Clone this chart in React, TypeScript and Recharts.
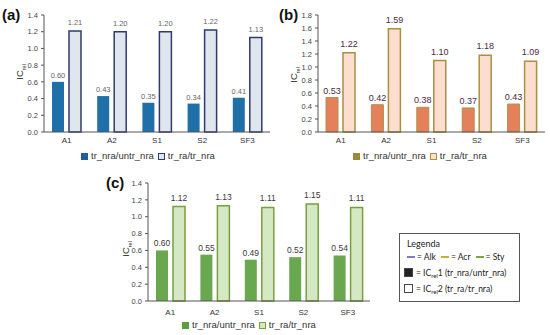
import { Bar, BarChart, LabelList, XAxis, YAxis } from "recharts";

const categories = ["A1", "A2", "S1", "S2", "SF3"];

const alk1 = [0.6, 0.43, 0.35, 0.34, 0.41];
const alk2 = [1.21, 1.2, 1.2, 1.22, 1.13];
const acr1 = [0.53, 0.42, 0.38, 0.37, 0.43];
const acr2 = [1.22, 1.59, 1.1, 1.18, 1.09];
const sty1 = [0.6, 0.55, 0.49, 0.52, 0.54];
const sty2 = [1.12, 1.13, 1.11, 1.15, 1.11];

const ticks14 = [0, 0.2, 0.4, 0.6, 0.8, 1.0, 1.2, 1.4];
const ticks18 = [0, 0.2, 0.4, 0.6, 0.8, 1.0, 1.2, 1.4, 1.6, 1.8];

const seriesNames = ["tr_nra/untr_nra", "tr_ra/tr_nra"];

const FONT = "'Liberation Sans', Arial, sans-serif";

interface Style {
  dark: string;
  darkStroke?: string;
  light: string;
  lightStroke: string;
  labelColor: string;
  labelSize: number;
  swatch: string;
}

interface PanelProps {
  left: number;
  top: number;
  height: number;
  marginLeft: number;
  marginTop: number;
  tickMargin: number;
  v1: number[];
  v2: number[];
  ticks: number[];
  st: Style;
}

function Panel({ left, top, height, marginLeft, marginTop, tickMargin, v1, v2, ticks, st }: PanelProps) {
  const data = categories.map((c, i) => ({ cat: c, s1: v1[i], s2: v2[i] }));
  const fmt = (v: unknown) => Number(v).toFixed(2);
  const labelStyle = { fill: st.labelColor, fontSize: st.labelSize, fontFamily: FONT };
  return (
    <div style={{ position: "absolute", left, top }}>
      <BarChart
        width={275}
        height={height}
        data={data}
        margin={{ top: marginTop, right: 5, left: marginLeft, bottom: 0 }}
        barSize={12}
        barGap={5}
      >
        <XAxis
          dataKey="cat"
          height={18}
          tickLine={false}
          tickSize={4}
          tickMargin={tickMargin}
          stroke="#555"
          tick={{ fill: "#333", fontSize: 8, fontFamily: FONT }}
        />
        <YAxis
          width={40}
          domain={[0, ticks[ticks.length - 1]]}
          ticks={ticks}
          interval={0}
          tickSize={3}
          tickMargin={3}
          stroke="#555"
          tickFormatter={(v: number) => v.toFixed(1)}
          tick={{ fill: "#444", fontSize: 7.5, fontFamily: FONT }}
        />
        <Bar
          dataKey="s1"
          fill={st.dark}
          stroke={st.darkStroke ?? "none"}
          strokeWidth={1}
          isAnimationActive={false}
        >
          <LabelList dataKey="s1" position="top" offset={4} formatter={fmt} style={labelStyle} />
        </Bar>
        <Bar
          dataKey="s2"
          fill={st.light}
          stroke={st.lightStroke}
          strokeWidth={1.5}
          isAnimationActive={false}
        >
          <LabelList dataKey="s2" position="top" offset={6} formatter={fmt} style={labelStyle} />
        </Bar>
      </BarChart>
    </div>
  );
}

function YLabel({ x, y }: { x: number; y: number }) {
  return (
    <div
      style={{
        position: "absolute",
        left: x - 20,
        top: y - 6,
        width: 40,
        textAlign: "center",
        transform: "rotate(-90deg)",
        fontFamily: FONT,
        fontSize: 9.5,
        color: "#333",
        lineHeight: "12px",
      }}
    >
      IC<sub style={{ fontSize: 5.5 }}>rel</sub>
    </div>
  );
}

function PanelTag({ x, y, text }: { x: number; y: number; text: string }) {
  return (
    <div
      style={{
        position: "absolute",
        left: x,
        top: y - 9,
        fontFamily: FONT,
        fontWeight: 700,
        fontSize: 15,
        lineHeight: "18px",
        color: "#111",
      }}
    >
      {text}
    </div>
  );
}

function SeriesLegend({ x, y, st }: { x: number; y: number; st: Style }) {
  const box = (fill: string, stroke: string) => (
    <span
      style={{
        display: "inline-block",
        width: 5,
        height: 5,
        background: fill,
        border: `1px solid ${stroke}`,
        marginRight: 3,
      }}
    />
  );
  return (
    <div
      style={{
        position: "absolute",
        left: x,
        top: y - 6,
        display: "flex",
        alignItems: "center",
        fontFamily: FONT,
        fontSize: 9.5,
        lineHeight: "12px",
        color: "#333",
        whiteSpace: "nowrap",
      }}
    >
      {box(st.swatch, st.swatch)}
      <span style={{ marginRight: 4 }}>{seriesNames[0]}</span>
      {box(st.light, st.lightStroke)}
      <span>{seriesNames[1]}</span>
    </div>
  );
}

const styleA: Style = {
  dark: "#1f6fa8",
  light: "#dfe6ee",
  lightStroke: "#2f3b6e",
  labelColor: "#666",
  labelSize: 7.5,
  swatch: "#1f5fa0",
};

const styleB: Style = {
  dark: "#e4805a",
  darkStroke: "#b09050",
  light: "#fbdecd",
  lightStroke: "#a89044",
  labelColor: "#4b2b45",
  labelSize: 9,
  swatch: "#9c8a3c",
};

const styleC: Style = {
  dark: "#6aa84f",
  light: "#d4e8c3",
  lightStroke: "#78a040",
  labelColor: "#3a3a3a",
  labelSize: 8.5,
  swatch: "#5f9c3e",
};

const lineKeys = [
  { name: "Alk", color: "#7b7bc8" },
  { name: "Acr", color: "#c0b040" },
  { name: "Sty", color: "#7aa840" },
];

function LegendBox() {
  const LFONT = "Lato, 'Open Sans', sans-serif";
  const sub = { fontSize: 6, verticalAlign: "-2px", lineHeight: "6px" };
  return (
    <div
      style={{
        position: "absolute",
        left: 399,
        top: 233,
        width: 119,
        height: 67,
        border: "1px solid #555",
        fontFamily: LFONT,
        fontSize: 8.5,
        color: "#222",
        lineHeight: "10px",
      }}
    >
      <div style={{ position: "absolute", left: 7, top: 5, fontSize: 9 }}>Legenda</div>
      <div style={{ position: "absolute", left: 7, top: 18, display: "flex", alignItems: "center", whiteSpace: "nowrap" }}>
        {lineKeys.map((k) => (
          <span key={k.name} style={{ display: "inline-flex", alignItems: "center", marginRight: 5 }}>
            <span style={{ display: "inline-block", width: 8, height: 1.5, background: k.color, marginRight: 2 }} />
            = {k.name}
          </span>
        ))}
      </div>
      <div style={{ position: "absolute", left: 4, top: 34, whiteSpace: "nowrap" }}>
        <span style={{ display: "inline-block", width: 7, height: 7, background: "#222", border: "1px solid #444", marginRight: 3, verticalAlign: "-1px" }} />
        = IC<span style={sub}>rel</span>1 (tr_nra/untr_nra)
      </div>
      <div style={{ position: "absolute", left: 4, top: 50, whiteSpace: "nowrap" }}>
        <span style={{ display: "inline-block", width: 7, height: 7, background: "#fff", border: "1px solid #444", marginRight: 3, verticalAlign: "-1px" }} />
        = IC<span style={sub}>rel</span>2 (tr_ra/tr_nra)
      </div>
    </div>
  );
}

export default function App() {
  return (
    <div
      style={{
        position: "absolute",
        left: 0,
        top: 0,
        width: 550,
        height: 335,
        background: "#fff",
        overflow: "hidden",
      }}
    >
      <Panel left={0} top={0} height={150} marginLeft={4} marginTop={15} tickMargin={1} v1={alk1} v2={alk2} ticks={ticks14} st={styleA} />
      <Panel left={275} top={0} height={150} marginLeft={3} marginTop={15} tickMargin={1} v1={acr1} v2={acr2} ticks={ticks18} st={styleB} />
      <Panel left={100} top={165} height={154} marginLeft={8} marginTop={18} tickMargin={4} v1={sty1} v2={sty2} ticks={ticks14} st={styleC} />
      <PanelTag x={2} y={15} text="(a)" />
      <PanelTag x={279} y={15} text="(b)" />
      <PanelTag x={106} y={183} text="(c)" />
      <YLabel x={22} y={70} />
      <YLabel x={296} y={73} />
      <YLabel x={128} y={247} />
      <SeriesLegend x={81} y={156} st={styleA} />
      <SeriesLegend x={353} y={156} st={styleB} />
      <SeriesLegend x={182} y={325} st={styleC} />
      <LegendBox />
    </div>
  );
}
